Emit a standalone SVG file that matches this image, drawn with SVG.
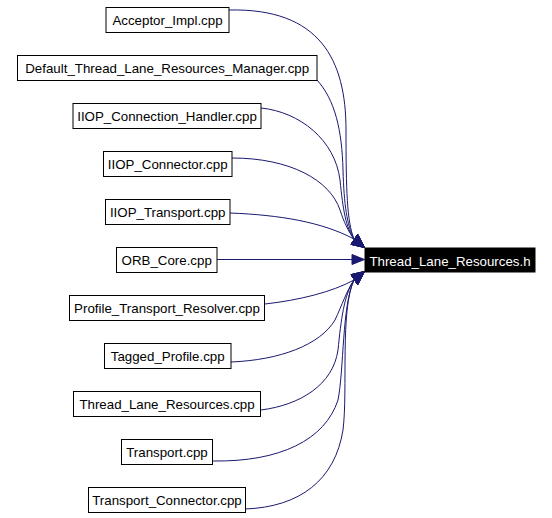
<svg xmlns="http://www.w3.org/2000/svg" width="552" height="518" viewBox="0 0 552 518">
<style>
.node rect{fill:#ffffff;stroke:#000000;stroke-width:1}
.node text{font-family:"Liberation Sans",Arial,sans-serif;font-size:13.3px;fill:#000000;text-anchor:middle}
#target rect{fill:#000000}
#target text{fill:#ffffff}
.edges path{fill:none;stroke:#191970;stroke-width:1}
.edges polygon{fill:#191970;stroke:#191970;stroke-width:1}
</style>
<rect x="0" y="0" width="552" height="518" fill="#ffffff"/>
<g class="edges" id="edges">
<g id="e0"><path d="M229,10 C320,8 346,60 346,130 C346,190 347,222 354,239"/><polygon points="351,244.3 357.7,234.3 364.5,247.5"/></g>
<g id="e1"><path d="M317,80 C335,100 342,130 343,170 C344,205 347,225 354,239"/><polygon points="351,244.3 357.7,234.3 364.5,247.5"/></g>
<g id="e2"><path d="M261,108 C300,112 335,140 340,180 C343,210 346,228 354,239"/><polygon points="351,244.3 357.7,234.3 364.5,247.5"/></g>
<g id="e3"><path d="M232,158 C290,158 330,180 340,210 C344,222 348,231 354,239"/><polygon points="351,244.3 357.7,234.3 364.5,247.5"/></g>
<g id="e4"><path d="M230,213 C280,215 322,222 354,239"/><polygon points="351,244.3 357.7,234.3 364.5,247.5"/></g>
<g id="e5"><path d="M217,259.5 L352,259.5"/><polygon points="352,254.5 364.5,259.5 352,264.5"/></g>
<g id="e6"><path d="M265,304 C300,300 332,292 354,280"/><polygon points="351,274.7 357.7,284.7 364.5,271.5"/></g>
<g id="e7"><path d="M231,362 C280,360 320,345 335,320 C342,305 347,290 354,280"/><polygon points="351,274.7 357.7,284.7 364.5,271.5"/></g>
<g id="e8"><path d="M261,410 C300,405 333,385 338,350 C341,320 344,295 354,280"/><polygon points="351,274.7 357.7,284.7 364.5,271.5"/></g>
<g id="e9"><path d="M213,461 C280,462 325,440 338,400 C344,370 342,305 354,280"/><polygon points="351,274.7 357.7,284.7 364.5,271.5"/></g>
<g id="e10"><path d="M245,509 C300,507 335,480 343,430 C348,390 340,310 354,280"/><polygon points="351,274.7 357.7,284.7 364.5,271.5"/></g>
</g>
<g class="node" id="target"><rect x="365" y="248" width="170" height="24"/><text x="450" y="265.5">Thread_Lane_Resources.h</text></g>
<g class="node" id="n0"><rect x="106" y="7.5" width="123" height="25"/><text x="167.5" y="25">Acceptor_Impl.cpp</text></g>
<g class="node" id="n1"><rect x="17.5" y="55.5" width="299.5" height="25"/><text x="167.2" y="73">Default_Thread_Lane_Resources_Manager.cpp</text></g>
<g class="node" id="n2"><rect x="73" y="103.5" width="188" height="25"/><text x="167" y="121">IIOP_Connection_Handler.cpp</text></g>
<g class="node" id="n3"><rect x="103.5" y="151.5" width="128.5" height="25"/><text x="167.7" y="169">IIOP_Connector.cpp</text></g>
<g class="node" id="n4"><rect x="105.5" y="199.5" width="124.5" height="25"/><text x="167.7" y="217">IIOP_Transport.cpp</text></g>
<g class="node" id="n5"><rect x="116.5" y="247.5" width="100.5" height="25"/><text x="166.7" y="265">ORB_Core.cpp</text></g>
<g class="node" id="n6"><rect x="69.5" y="295.5" width="195" height="25"/><text x="167" y="313">Profile_Transport_Resolver.cpp</text></g>
<g class="node" id="n7"><rect x="104.5" y="343.5" width="126.5" height="25"/><text x="167.7" y="361">Tagged_Profile.cpp</text></g>
<g class="node" id="n8"><rect x="73.5" y="391.5" width="187" height="25"/><text x="167" y="409">Thread_Lane_Resources.cpp</text></g>
<g class="node" id="n9"><rect x="121.5" y="439.5" width="91" height="25"/><text x="167" y="457">Transport.cpp</text></g>
<g class="node" id="n10"><rect x="88.5" y="487.5" width="157" height="25"/><text x="167" y="505">Transport_Connector.cpp</text></g>
</svg>
